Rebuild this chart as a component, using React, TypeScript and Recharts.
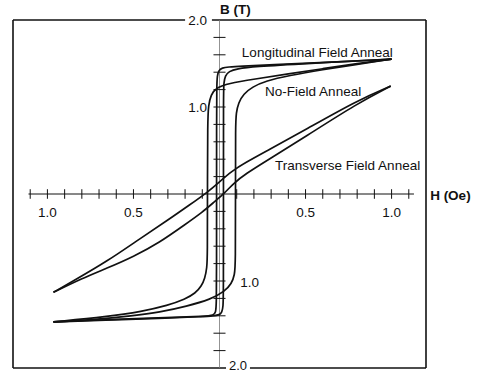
import { LineChart, Line, XAxis, YAxis, ReferenceLine, ReferenceDot } from 'recharts'

// B-H loops for three anneal conditions, H in Oe, B in T
const longDown = [
  [1.0, 1.55], [0.6, 1.51], [0.3, 1.485], [0.12, 1.47], [0.05, 1.46], [0.015, 1.45],
  [-0.005, 1.42], [-0.013, 1.36], [-0.016, 1.25], [-0.017, 0.8], [-0.017, 0],
  [-0.017, -0.8], [-0.018, -1.28], [-0.022, -1.36], [-0.035, -1.395], [-0.08, -1.405],
  [-0.3, -1.42], [-0.6, -1.44], [-0.965, -1.47],
]
const longUp = [
  [-0.965, -1.47], [-0.6, -1.445], [-0.3, -1.425], [-0.1, -1.41], [-0.03, -1.4],
  [0.0, -1.39], [0.014, -1.36], [0.021, -1.3], [0.023, -1.15], [0.023, 0], [0.023, 1.15],
  [0.025, 1.28], [0.033, 1.36], [0.055, 1.41], [0.1, 1.44], [0.2, 1.465], [0.5, 1.5],
  [1.0, 1.55],
]
const noFieldDown = [
  [1.0, 1.55], [0.8, 1.5], [0.6, 1.44], [0.4, 1.38], [0.2, 1.32], [0.05, 1.27],
  [-0.02, 1.22], [-0.05, 1.14], [-0.064, 1.02], [-0.069, 0.85], [-0.07, 0],
  [-0.07, -0.7], [-0.073, -0.85], [-0.085, -0.97], [-0.105, -1.06], [-0.14, -1.14],
  [-0.2, -1.21], [-0.3, -1.28], [-0.45, -1.35], [-0.65, -1.41], [-0.965, -1.47],
]
const noFieldUp = [
  [-0.965, -1.47], [-0.75, -1.45], [-0.5, -1.4], [-0.35, -1.36], [-0.19, -1.29],
  [-0.05, -1.21], [0.03, -1.12], [0.07, -1.03], [0.088, -0.93], [0.093, -0.8],
  [0.093, 0], [0.093, 0.8], [0.097, 0.93], [0.11, 1.05], [0.14, 1.15], [0.19, 1.23],
  [0.27, 1.3], [0.4, 1.36], [0.6, 1.43], [0.8, 1.49], [1.0, 1.55],
]
const transDown = [
  [0.995, 1.24], [0.8, 1.075], [0.5, 0.74], [0.28, 0.5], [0.15, 0.36], [0.07, 0.26],
  [0.0, 0.14], [-0.07, 0.02], [-0.17, -0.12], [-0.3, -0.3], [-0.46, -0.51],
  [-0.65, -0.77], [-0.85, -1.0], [-0.965, -1.13],
]
const transUp = [
  [-0.965, -1.13], [-0.8, -0.97], [-0.65, -0.85], [-0.5, -0.72], [-0.35, -0.56],
  [-0.2, -0.35], [-0.1, -0.21], [-0.03, -0.09], [0.03, 0.01], [0.08, 0.12],
  [0.15, 0.23], [0.28, 0.39], [0.5, 0.66], [0.8, 1.04], [0.995, 1.24],
]

const hTicks = [-1.1, -1.0, -0.9, -0.8, -0.7, -0.6, -0.5, -0.4, -0.3, -0.2, -0.1,
  0.1, 0.2, 0.3, 0.4, 0.5, 0.6, 0.7, 0.8, 0.9, 1.0, 1.1]
const bTicks = [-1.8, -1.6, -1.4, -1.2, -1.0, -0.8, -0.6, -0.4, -0.2,
  0.2, 0.4, 0.6, 0.8, 1.0, 1.2, 1.4, 1.6, 1.8]
const hLabels = [
  { h: -1.0, text: '1.0' }, { h: -0.5, text: '0.5' },
  { h: 0.5, text: '0.5' }, { h: 1.0, text: '1.0' },
]

const toPts = (arr: number[][]) => arr.map(([h, b]) => ({ h, b }))

const branches = [longDown, longUp, noFieldDown, noFieldUp, transDown, transUp].map(toPts)

const FONT = '"Liberation Sans", Arial, Helvetica, sans-serif'
const INK = '#111'

const textShape = (text: string, anchor: 'start' | 'middle' | 'end', bold = false, size = 13.5) =>
  (p: any) => (
    <text
      x={p.cx}
      y={p.cy}
      textAnchor={anchor}
      dominantBaseline="central"
      fontFamily={FONT}
      fontSize={size}
      fontWeight={bold ? 700 : 400}
      fill={INK}
    >
      {text}
    </text>
  )

function Note({ h, b, text, anchor = 'start', bold = false, size = 13.5 }: {
  h: number; b: number; text: string; anchor?: 'start' | 'middle' | 'end'; bold?: boolean; size?: number
}) {
  return (
    <ReferenceDot x={h} y={b} r={0} ifOverflow="visible" shape={textShape(text, anchor, bold, size)} />
  )
}

function seg(key: string, x1: number, y1: number, x2: number, y2: number, w = 1.2, color = INK) {
  return (
    <ReferenceLine
      key={key}
      segment={[{ x: x1, y: y1 }, { x: x2, y: y2 }]}
      stroke={color}
      strokeWidth={w}
      ifOverflow="visible"
    />
  )
}

export default function App() {
  return (
    <div style={{ position: 'absolute', left: 0, top: 0, background: '#fff' }}>
      <LineChart width={478} height={372} margin={{ top: 20, right: 52, bottom: 4, left: 13 }}>
        <XAxis type="number" dataKey="h" domain={[-1.2, 1.2]} allowDataOverflow hide />
        <YAxis type="number" dataKey="b" domain={[-2, 2]} allowDataOverflow hide />

        {/* frame, broken around the 2.0 labels */}
        {seg('ft1', -1.2, 2, -0.2, 2, 1.6)}
        {seg('ft2', -0.044, 2, 1.2, 2, 1.6)}
        {seg('fb1', -1.2, -2, 0.038, -2, 1.6)}
        {seg('fb2', 0.177, -2, 1.2, -2, 1.6)}
        {seg('fl', -1.2, -2, -1.2, 2, 1.6)}
        {seg('fr', 1.2, -2, 1.2, 2, 1.6)}

        {/* axes through the origin */}
        {seg('ax', -1.11, 0, 1.13, 0, 1)}
        {seg('ay', 0, -2, 0, 2, 0.8, '#777')}
        {hTicks.map((t) => seg(`ht${t}`, t, -0.055, t, 0.055, 1))}
        {bTicks.map((t) => seg(`bt${t}`, -0.035, t, 0.035, t, 1))}

        {branches.map((d, i) => (
          <Line
            key={i}
            data={d}
            dataKey="b"
            type="basis"
            stroke={INK}
            strokeWidth={1.7}
            dot={false}
            activeDot={false}
            isAnimationActive={false}
          />
        ))}

        {hLabels.map((l) => (
          <Note key={`hl${l.h}`} h={l.h} b={-0.207} text={l.text} anchor="middle" />
        ))}
        <Note h={-0.073} b={2.0} text="2.0" anchor="end" />
        <Note h={-0.073} b={1.0} text="1.0" anchor="end" />
        <Note h={0.12} b={-1.02} text="1.0" />
        <Note h={0.055} b={-1.975} text="2.0" size={13} />
        <Note h={0.003} b={2.115} text="B (T)" bold />
        <Note h={1.224} b={-0.02} text="H (Oe)" bold />
        <Note h={0.13} b={1.63} text="Longitudinal Field Anneal" />
        <Note h={0.265} b={1.18} text="No-Field Anneal" />
        <Note h={0.323} b={0.33} text="Transverse Field Anneal" />
      </LineChart>
    </div>
  )
}
